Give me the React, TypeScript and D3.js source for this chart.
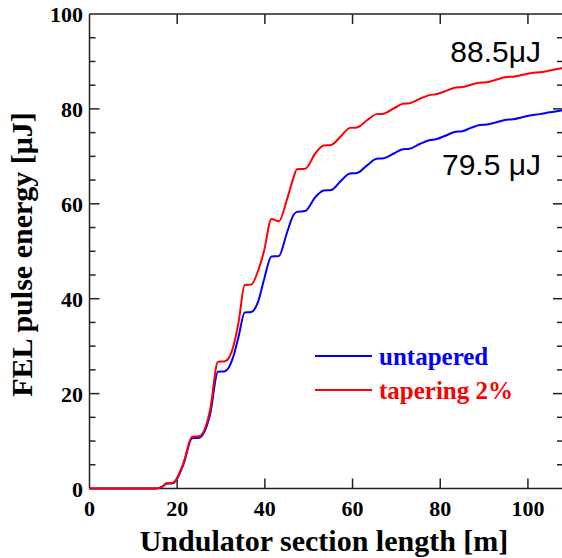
import React from "react";
import * as d3 from "d3";

// undulator position [m]
const distance = [
  0, 11, 15, 16.8, 17.5, 19.0, 21.4, 23.4, 25.0, 27.5, 29.3, 30.9, 32.8, 34.0, 35.4, 36.9,
  38.5, 39.8, 41.5, 43.2, 45.0, 46.5, 47.3, 49.2, 51.5, 53.4, 55.1, 57.3, 59.4, 61.0, 63.3,
  65.5, 67.1, 69.4, 71.5, 73.0, 75.3, 77.5, 79.0, 81.3, 83.5, 85.0, 87.0, 89.0, 90.6, 92.9,
  95.1, 96.6, 98.9, 101.2, 102.7, 105.0, 107.3, 108,
];
// pulse energy [uJ]
const untapered = [
  0, 0, 0, 0.5, 1.0, 1.1, 5.0, 10.6, 10.7, 15.6, 24.6, 24.7, 27.8, 32.0, 37.1, 37.2,
  39.5, 44.0, 48.9, 49.0, 53.8, 57.6, 58.3, 58.5, 61.4, 62.8, 62.9, 64.8, 66.4, 66.5, 68.1,
  69.5, 69.6, 70.6, 71.5, 71.6, 72.6, 73.4, 73.6, 74.4, 75.2, 75.3, 76.0, 76.6, 76.7, 77.2,
  77.7, 77.8, 78.3, 78.7, 78.9, 79.3, 79.6, 79.7,
];
const tapered = [
  0, 0, 0, 0.5, 1.1, 1.2, 5.3, 10.9, 11.0, 16.5, 26.7, 26.8, 29.9, 35.0, 42.9, 43.0,
  46.0, 50.0, 56.8, 56.3, 60.8, 65.4, 67.3, 67.4, 70.6, 72.3, 72.4, 74.2, 76.0, 76.1, 77.6,
  78.9, 79.0, 80.1, 81.1, 81.2, 82.1, 82.9, 83.1, 83.8, 84.5, 84.6, 85.1, 85.5, 85.6, 86.2,
  86.7, 86.8, 87.2, 87.6, 87.7, 88.1, 88.5, 88.6,
];

const xTicks = [0, 20, 40, 60, 80, 100];
const yTicks = [0, 20, 40, 60, 80, 100];
const yMinor = [5, 10, 15, 25, 30, 35, 45, 50, 55, 65, 70, 75, 85, 90, 95];

const seriesNames = ["untapered", "tapering 2%"];
const seriesColors = ["#0000ff", "#ff0000"];

const W = 562;
const H = 558;
const serif = "'Liberation Serif', 'Times New Roman', serif";
const sans = "'Liberation Sans', Arial, sans-serif";

export default function App() {
  const x = d3.scaleLinear().domain([0, 108]).range([89.5, 563]);
  const y = d3.scaleLinear().domain([0, 100]).range([488.5, 14]);
  const left = x(0);
  const right = x(108);
  const bottom = y(0);
  const top = y(100);

  const line = d3
    .line<number>()
    .x((_, i) => x(distance[i]))
    .y((d) => y(d))
    .curve(d3.curveMonotoneX);

  const axisColor = "#222";

  return (
    <svg
      width={W}
      height={H}
      style={{ position: "absolute", left: 0, top: 0, background: "#fff" }}
    >
      {/* frame */}
      <line x1={left} x2={left} y1={top} y2={bottom} stroke={axisColor} strokeWidth={1.5} />
      <line x1={left} x2={right} y1={bottom} y2={bottom} stroke={axisColor} strokeWidth={1.5} />
      <line x1={left} x2={right} y1={top} y2={top} stroke={axisColor} strokeWidth={1.5} />
      <line x1={right} x2={right} y1={top} y2={bottom} stroke={axisColor} strokeWidth={1.5} />

      {/* x ticks */}
      {xTicks.map((t) => (
        <g key={"x" + t}>
          {t > 0 && (
            <>
              <line x1={x(t)} x2={x(t)} y1={bottom} y2={bottom - 10} stroke={axisColor} strokeWidth={1.5} />
              <line x1={x(t)} x2={x(t)} y1={top} y2={top + 10} stroke={axisColor} strokeWidth={1.5} />
            </>
          )}
          <text
            x={x(t)}
            y={516}
            textAnchor="middle"
            fontFamily={serif}
            fontWeight="bold"
            fontSize={22}
          >
            {t}
          </text>
        </g>
      ))}

      {/* y ticks */}
      {yTicks.map((t) => (
        <g key={"y" + t}>
          {t > 0 && t < 100 && (
            <>
              <line x1={left} x2={left + 10} y1={y(t)} y2={y(t)} stroke={axisColor} strokeWidth={1.5} />
              <line x1={right} x2={right - 10} y1={y(t)} y2={y(t)} stroke={axisColor} strokeWidth={1.5} />
            </>
          )}
          <text
            x={83}
            y={y(t) + 8}
            textAnchor="end"
            fontFamily={serif}
            fontWeight="bold"
            fontSize={22}
          >
            {t}
          </text>
        </g>
      ))}
      {yMinor.map((t) => (
        <g key={"m" + t}>
          <line x1={left} x2={left + 6} y1={y(t)} y2={y(t)} stroke={axisColor} strokeWidth={1.5} />
          <line x1={right} x2={right - 6} y1={y(t)} y2={y(t)} stroke={axisColor} strokeWidth={1.5} />
        </g>
      ))}

      {/* curves */}
      <path d={line(untapered) ?? ""} fill="none" stroke={seriesColors[0]} strokeWidth={2} />
      <path d={line(tapered) ?? ""} fill="none" stroke={seriesColors[1]} strokeWidth={2} />

      {/* end values */}
      <text x={541} y={61.5} textAnchor="end" fontFamily={sans} fontSize={30}>
        88.5μJ
      </text>
      <text x={541} y={175} textAnchor="end" fontFamily={sans} fontSize={30}>
        79.5 μJ
      </text>

      {/* legend */}
      {seriesNames.map((name, i) => (
        <g key={name} transform={`translate(315, ${356 + i * 34})`}>
          <line x1={0} x2={57} y1={0} y2={0} stroke={seriesColors[i]} strokeWidth={2} />
          <text
            x={64}
            y={8.5}
            fill={seriesColors[i]}
            fontFamily={serif}
            fontWeight="bold"
            fontSize={25}
          >
            {name}
          </text>
        </g>
      ))}

      {/* axis titles */}
      <text
        x={324}
        y={551}
        textAnchor="middle"
        fontFamily={serif}
        fontWeight="bold"
        fontSize={30}
      >
        Undulator section length [m]
      </text>
      <text
        transform="translate(32, 254.5) rotate(-90)"
        textAnchor="middle"
        fontFamily={serif}
        fontWeight="bold"
        fontSize={30}
      >
        FEL pulse energy [μJ]
      </text>
    </svg>
  );
}
